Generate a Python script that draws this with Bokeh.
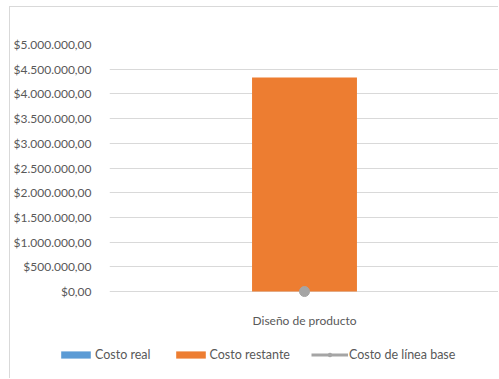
from bokeh.plotting import figure
from bokeh.layouts import column
from bokeh.models import (FactorRange, Range1d, CustomJSTickFormatter, Legend,
                          LegendItem, ColumnDataSource, FixedTicker)
from bokeh.embed import file_html
from bokeh.resources import INLINE

categories = ["Diseño de producto"]
costo_real = [0]
costo_restante = [4330000]
costo_linea_base = [0]
y_ticks = [0, 500000, 1000000, 1500000, 2000000, 2500000, 3000000,
           3500000, 4000000, 4500000, 5000000]
series_labels = ["Costo real", "Costo restante", "Costo de línea base"]
series_colors = ["#5b9bd5", "#ed7d31", "#a5a5a5"]

src = ColumnDataSource(dict(cat=categories, real=costo_real,
                            restante=costo_restante, base=costo_linea_base))

FONT = "Lato"
TXT = "#595959"
BORDER = "1px solid #d9d9d9"


def draw_series(fig, visible=True):
    bars = fig.vbar_stack(["real", "restante"], x="cat", width=0.269,
                          fill_color=series_colors[:2], line_color=None,
                          source=src, visible=visible)
    ln = fig.line(x="cat", y="base", line_color=series_colors[2],
                  line_width=3, source=src, visible=visible)
    sc = fig.scatter(x="cat", y="base", size=10, fill_color=series_colors[2],
                     line_color=series_colors[2], source=src, visible=visible)
    return bars, ln, sc


# main chart
p = figure(x_range=FactorRange(*categories), y_range=Range1d(-120000, 5000000),
           width=489, height=323, output_backend="svg", toolbar_location=None,
           min_border_left=96, min_border_right=0, min_border_top=37,
           min_border_bottom=32, frame_align=False,
           styles={"border-left": BORDER, "border-top": BORDER})
p.outline_line_color = None
draw_series(p)

p.yaxis.ticker = FixedTicker(ticks=y_ticks)
p.yaxis.formatter = CustomJSTickFormatter(code="""
const s = Math.round(tick).toString().replace(/\\B(?=(\\d{3})+(?!\\d))/g, ".");
return "$" + s + ",00";
""")
for ax in (p.xaxis, p.yaxis):
    ax.axis_line_color = None
    ax.major_tick_line_color = None
    ax.minor_tick_line_color = None
    ax.major_label_text_font = FONT
    ax.major_label_text_font_size = "12px"
    ax.major_label_text_color = TXT
p.yaxis.major_label_standoff = 12
p.xaxis.major_label_standoff = 9

p.xgrid.grid_line_color = None
p.ygrid.grid_line_color = "#d9d9d9"
p.ygrid.ticker = FixedTicker(ticks=y_ticks)

# legend strip
lg = figure(x_range=FactorRange(*categories), y_range=Range1d(0, 1),
            width=489, height=49, output_backend="svg", toolbar_location=None,
            min_border=0, x_axis_location=None, y_axis_location=None,
            frame_align=False, styles={"border-left": BORDER})
lg.outline_line_color = None
lg.grid.visible = False
lbars, lln, lsc = draw_series(lg, visible=False)

legend = Legend(items=[LegendItem(label=series_labels[0], renderers=[lbars[0]]),
                       LegendItem(label=series_labels[1], renderers=[lbars[1]]),
                       LegendItem(label=series_labels[2], renderers=[lln, lsc])],
                orientation="horizontal", location=(47, 16),
                glyph_width=37, glyph_height=9, label_standoff=1, spacing=21,
                padding=0, margin=0, border_line_color=None,
                background_fill_alpha=0, label_text_font=FONT,
                label_text_font_size="12.5px", label_text_color=TXT)
lg.add_layout(legend)

layout = column(p, lg, spacing=0, styles={"margin-left": "9px", "margin-top": "6px"})
open("out.html", "w").write(file_html(layout, INLINE))
